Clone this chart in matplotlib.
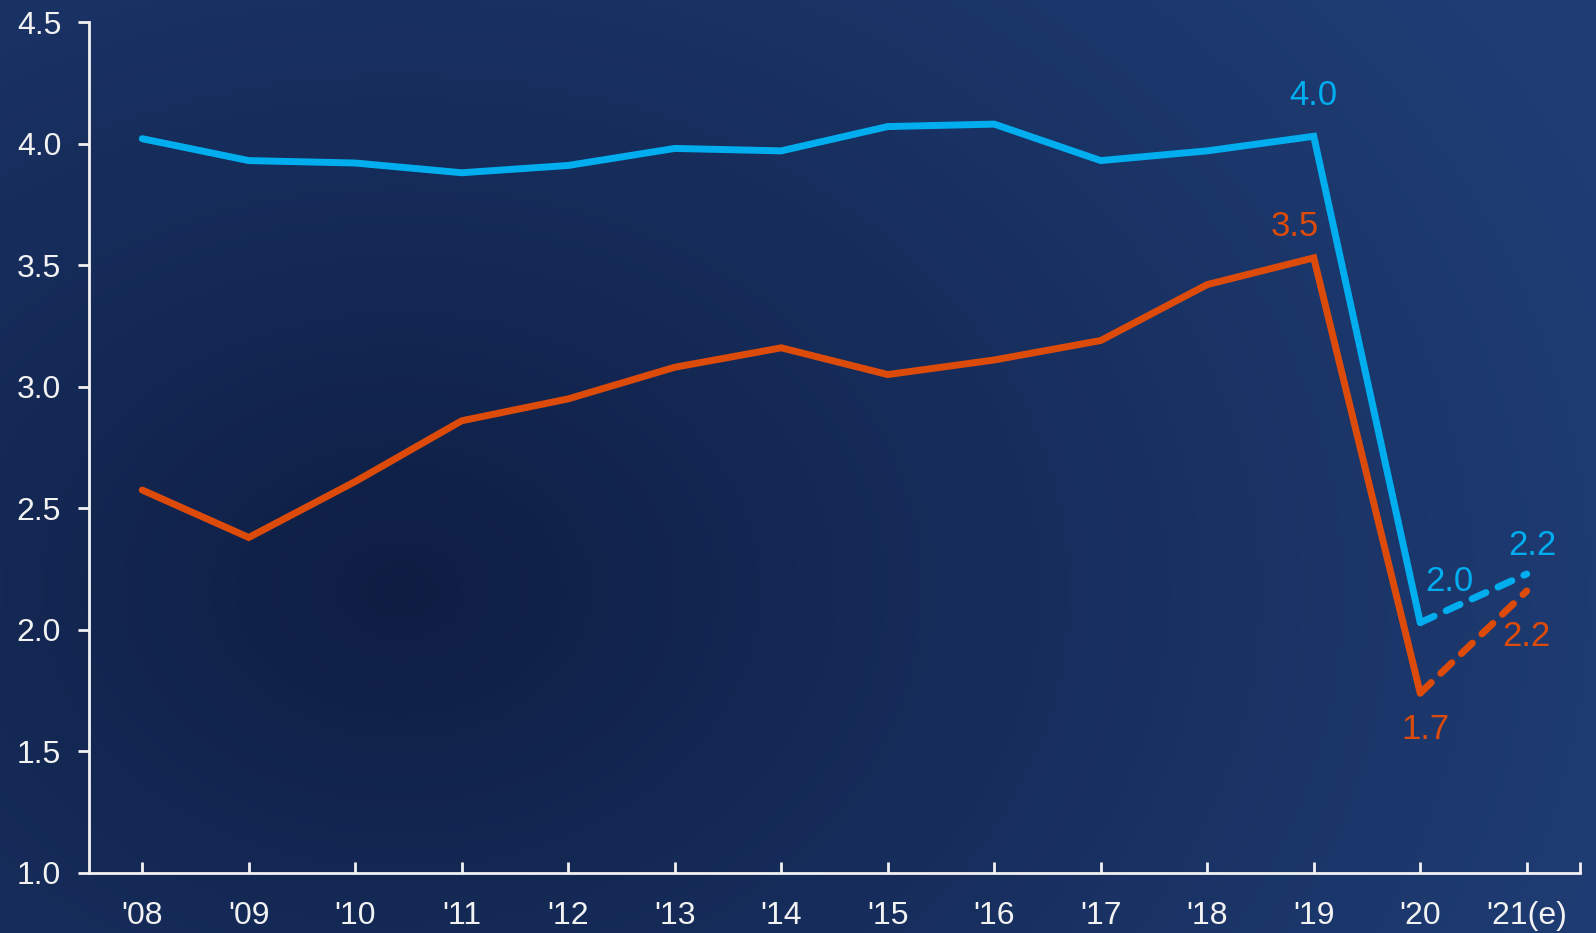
import numpy as np
import matplotlib.pyplot as plt
import matplotlib.colors as mcolors

plt.rcParams['font.family'] = ['Liberation Sans', 'DejaVu Sans']

years = ["'08", "'09", "'10", "'11", "'12", "'13", "'14", "'15", "'16", "'17",
         "'18", "'19", "'20", "'21(e)"]
blue_vals = [4.02, 3.93, 3.92, 3.88, 3.91, 3.98, 3.97, 4.07, 4.08, 3.93,
             3.97, 4.03, 2.03, 2.23]
orange_vals = [2.575, 2.38, 2.61, 2.86, 2.95, 3.08, 3.16, 3.05, 3.11, 3.19,
               3.42, 3.53, 1.74, 2.16]

BLUE = '#00AEEF'
ORANGE = '#DD4B0A'
WHITE = '#F2F2F2'

fig = plt.figure(figsize=(15.96, 9.33), dpi=100)

# radial gradient background
bg = fig.add_axes([0, 0, 1, 1], zorder=0)
h, w = 933, 1596
yy, xx = np.mgrid[0:h, 0:w]
r = np.sqrt(((xx - 400) / 1300) ** 2 + ((yy - 590) / 1000) ** 2)
r = np.clip(r, 0, 1)
c0 = np.array(mcolors.to_rgb('#0E1D42'))
c1 = np.array(mcolors.to_rgb('#1F3D75'))
img = c0 + (c1 - c0) * r[..., None] ** 0.9
bg.imshow(img, aspect='auto', extent=[0, 1, 0, 1])
bg.axis('off')

ax = fig.add_axes([89 / 1596, 1 - 873 / 933, (1580 - 89) / 1596, (873 - 22) / 933], zorder=1)
ax.patch.set_alpha(0)

x = np.arange(len(years))
lw = 5
for vals, col in [(blue_vals, BLUE), (orange_vals, ORANGE)]:
    ax.plot(x[:13], vals[:13], color=col, lw=lw, solid_capstyle='round',
            solid_joinstyle='miter')
    ax.plot(x[12:], vals[12:], color=col, lw=lw, linestyle=(0, (2.2, 1.9)),
            dash_capstyle='round')

ax.set_xlim(-0.5, 13.5)
ax.set_ylim(1.0, 4.5)
ax.set_yticks(np.arange(1.0, 4.51, 0.5))
ax.set_yticklabels([f'{v:.1f}' for v in np.arange(1.0, 4.51, 0.5)])
ax.set_xticks(x)
ax.set_xticklabels(years)
ax.set_xticks([13.5], minor=True)

for s in ['top', 'right']:
    ax.spines[s].set_visible(False)
for s in ['left', 'bottom']:
    ax.spines[s].set_color(WHITE)
    ax.spines[s].set_linewidth(2)

ax.tick_params(axis='y', colors=WHITE, labelsize=23, length=8, width=2,
               direction='out', pad=12)
ax.tick_params(axis='x', colors=WHITE, labelsize=23, length=8, width=2,
               direction='in', pad=20)
ax.tick_params(axis='x', which='minor', colors=WHITE, length=8, width=2,
               direction='in')

fs = 25
ax.text(11, blue_vals[11] + 0.1, f'{blue_vals[11]:.1f}', color=BLUE, fontsize=fs,
        ha='center', va='bottom')
ax.text(10.82, orange_vals[11] + 0.06, f'{orange_vals[11]:.1f}', color=ORANGE,
        fontsize=fs, ha='center', va='bottom')
ax.text(12.27, blue_vals[12] + 0.1, f'{blue_vals[12]:.1f}', color=BLUE, fontsize=fs,
        ha='center', va='bottom')
ax.text(13.05, blue_vals[13] + 0.05, f'{blue_vals[13]:.1f}', color=BLUE, fontsize=fs,
        ha='center', va='bottom')
ax.text(13.0, orange_vals[13] - 0.12, f'{orange_vals[13]:.1f}', color=ORANGE,
        fontsize=fs, ha='center', va='top')
ax.text(12.05, orange_vals[12] - 0.08, f'{orange_vals[12]:.1f}', color=ORANGE,
        fontsize=fs, ha='center', va='top')

fig.savefig('out.png', dpi=100)
